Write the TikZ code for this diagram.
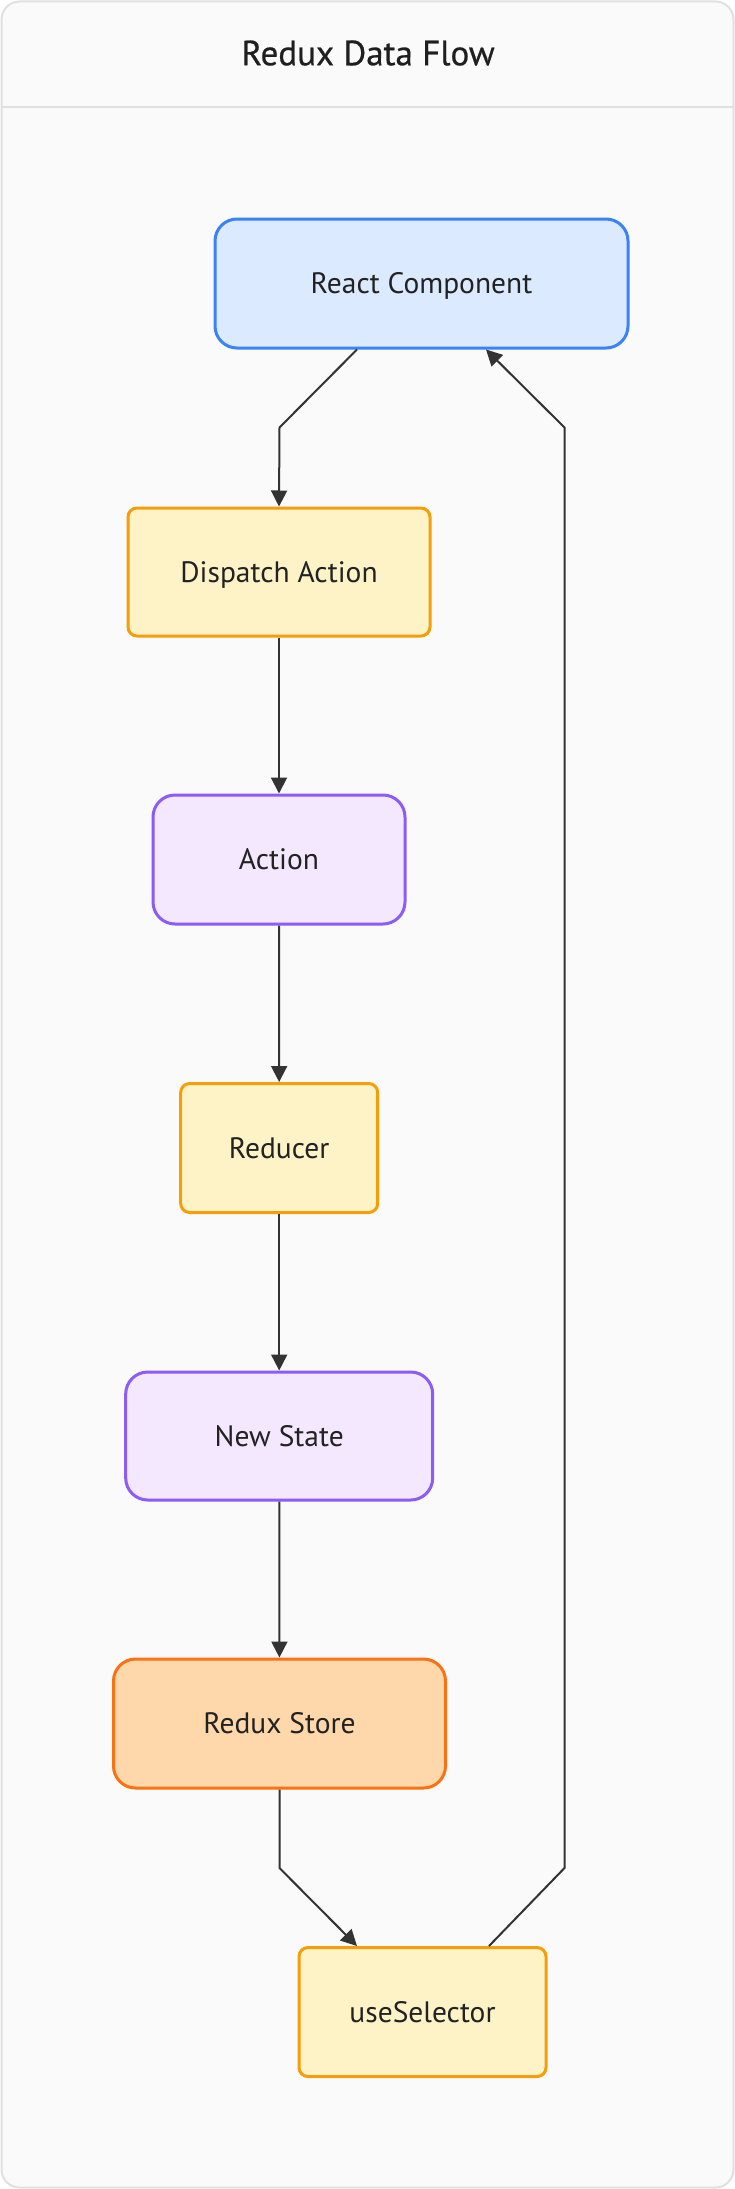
\documentclass[tikz,border=0pt]{standalone}
\usepackage{fontspec}
\setmainfont{PT Sans}
\newfontfamily\titlefont[FakeBold=0.6]{PT Sans}
\usetikzlibrary{arrows.meta}
\definecolor{bgc}{HTML}{FAFAFA}
\definecolor{framec}{HTML}{E0E0E0}
\definecolor{edgec}{HTML}{333333}
\definecolor{txtc}{HTML}{222222}
\definecolor{bluefill}{HTML}{DBEAFE}
\definecolor{blueline}{HTML}{3B82F6}
\definecolor{yelfill}{HTML}{FEF3C7}
\definecolor{yelline}{HTML}{F59E0B}
\definecolor{purfill}{HTML}{F3E8FF}
\definecolor{purline}{HTML}{8B5CF6}
\definecolor{orafill}{HTML}{FED7AA}
\definecolor{oraline}{HTML}{F97316}
\tikzset{
  box/.style={draw, line width=3pt, inner sep=0pt, text=txtc,
    font=\fontsize{29.5}{34}\selectfont, text height=20.6pt, text depth=0pt},
  bigr/.style={box, rounded corners=22pt},
  smallr/.style={box, rounded corners=9pt},
  reactbox/.style={bigr, fill=bluefill, draw=blueline},
  stepbox/.style={smallr, fill=yelfill, draw=yelline},
  databox/.style={bigr, fill=purfill, draw=purline},
  storebox/.style={bigr, fill=orafill, draw=oraline},
  flow/.style={draw=edgec, line width=2pt, -{Triangle[length=16pt,width=16pt]}},
}
\begin{document}
\begin{tikzpicture}[x=1pt,y=-1pt]
\useasboundingbox (0,0) rectangle (735,2189);
\draw[fill=bgc, draw=framec, line width=2pt, rounded corners=18pt] (1.5,1.5) rectangle (733.5,2187.5);
\draw[draw=framec, line width=2pt] (1.5,107) -- (733.5,107);
\node[text=black!88, font=\titlefont\fontsize{35}{40}\selectfont, inner sep=0pt, text height=24.5pt, text depth=0pt] (title) at (368,53) {Redux Data Flow};

\node[reactbox, minimum width=413pt, minimum height=129pt] (react) at (421.5,283.5) {React Component};
\node[stepbox, minimum width=302pt, minimum height=128pt] (dispatch) at (279,572) {Dispatch Action};
\node[databox, minimum width=252pt, minimum height=129pt] (action) at (279,859.5) {Action};
\node[stepbox, minimum width=197pt, minimum height=129pt] (reducer) at (279.2,1148) {Reducer};
\node[databox, minimum width=307pt, minimum height=128pt] (newstate) at (279.2,1436) {New State};
\node[storebox, minimum width=332pt, minimum height=129pt] (store) at (279.5,1723.5) {Redux Store};
\node[stepbox, minimum width=247pt, minimum height=129pt] (usesel) at (422.5,2012) {useSelector};

\coordinate (k1) at (279.5,427.5);
\coordinate (k2) at (279.5,1868);
\coordinate (k3) at (564.5,1868);
\coordinate (k4) at (564.5,427.5);

\draw[flow] (react.south -| 357,0) -- (k1) -- (dispatch.north);
\draw[flow] (dispatch) -- (action);
\draw[flow] (action) -- (reducer);
\draw[flow] (reducer) -- (newstate);
\draw[flow] (newstate) -- (store);
\draw[flow] (store.south) -- (k2) -- (usesel.north -| 357,0);
\draw[flow] (usesel.north -| 489,0) -- (k3) -- (k4) -- (react.south -| 486,0);
\end{tikzpicture}
\end{document}
